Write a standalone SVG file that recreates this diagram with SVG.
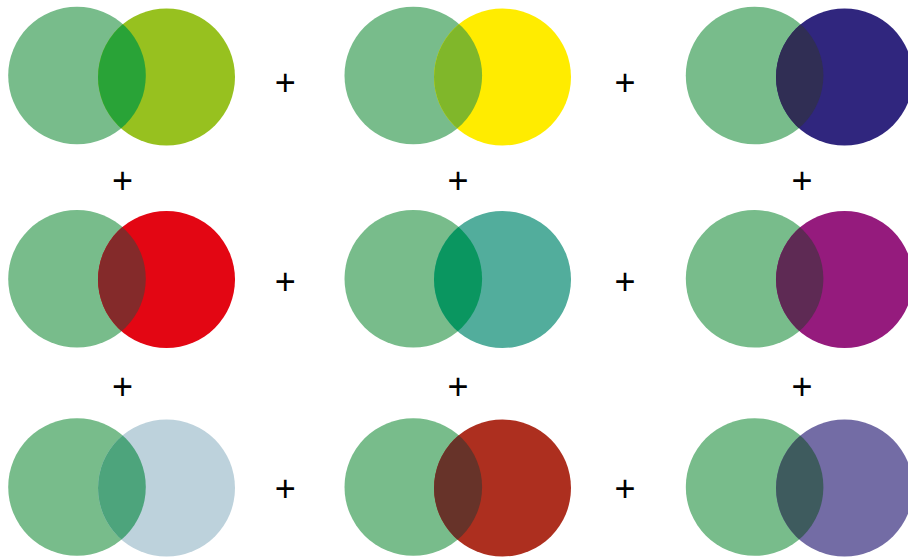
<svg xmlns="http://www.w3.org/2000/svg" width="908" height="557" viewBox="0 0 908 557">
<style>
.g{fill:#78bc8b}
.plus{font-family:"Liberation Sans",Arial,sans-serif;font-size:36px;fill:#000;text-anchor:middle}
</style>
<defs>
<clipPath id="c1"><circle cx="166.5" cy="77" r="68.5"/></clipPath>
<clipPath id="c2"><circle cx="502.5" cy="77" r="68.5"/></clipPath>
<clipPath id="c3"><circle cx="844.5" cy="77" r="68.5"/></clipPath>
<clipPath id="c4"><circle cx="166.5" cy="279.5" r="68.5"/></clipPath>
<clipPath id="c5"><circle cx="502.5" cy="279.5" r="68.5"/></clipPath>
<clipPath id="c6"><circle cx="844.5" cy="279.5" r="68.5"/></clipPath>
<clipPath id="c7"><circle cx="166.5" cy="488" r="68.5"/></clipPath>
<clipPath id="c8"><circle cx="502.5" cy="488" r="68.5"/></clipPath>
<clipPath id="c9"><circle cx="844.5" cy="488" r="68.5"/></clipPath>
</defs>
<rect width="908" height="557" fill="#fff"/>
<g id="pair1">
<circle class="g" cx="77" cy="75.5" r="68.8"/>
<circle cx="166.5" cy="77" r="68.5" fill="#97c11f"/>
<circle cx="77" cy="75.5" r="68.8" fill="#29a337" clip-path="url(#c1)"/>
</g>
<g id="pair2">
<circle class="g" cx="413.3" cy="75.5" r="68.8"/>
<circle cx="502.5" cy="77" r="68.5" fill="#ffec00"/>
<circle cx="413.3" cy="75.5" r="68.8" fill="#80b72a" clip-path="url(#c2)"/>
</g>
<g id="pair3">
<circle class="g" cx="754.6" cy="75.5" r="68.8"/>
<circle cx="844.5" cy="77" r="68.5" fill="#30267e"/>
<circle cx="754.6" cy="75.5" r="68.8" fill="#302e54" clip-path="url(#c3)"/>
</g>
<g id="pair4">
<circle class="g" cx="77" cy="278.8" r="68.8"/>
<circle cx="166.5" cy="279.5" r="68.5" fill="#e30613"/>
<circle cx="77" cy="278.8" r="68.8" fill="#842a2a" clip-path="url(#c4)"/>
</g>
<g id="pair5">
<circle class="g" cx="413.3" cy="278.8" r="68.8"/>
<circle cx="502.5" cy="279.5" r="68.5" fill="#52ad9c"/>
<circle cx="413.3" cy="278.8" r="68.8" fill="#0a9660" clip-path="url(#c5)"/>
</g>
<g id="pair6">
<circle class="g" cx="754.6" cy="278.8" r="68.8"/>
<circle cx="844.5" cy="279.5" r="68.5" fill="#951b7d"/>
<circle cx="754.6" cy="278.8" r="68.8" fill="#5e2a54" clip-path="url(#c6)"/>
</g>
<g id="pair7">
<circle class="g" cx="77" cy="487" r="68.8"/>
<circle cx="166.5" cy="488" r="68.5" fill="#bdd2dc"/>
<circle cx="77" cy="487" r="68.8" fill="#4da47c" clip-path="url(#c7)"/>
</g>
<g id="pair8">
<circle class="g" cx="413.3" cy="487" r="68.8"/>
<circle cx="502.5" cy="488" r="68.5" fill="#ad2f1f"/>
<circle cx="413.3" cy="487" r="68.8" fill="#673329" clip-path="url(#c8)"/>
</g>
<g id="pair9">
<circle class="g" cx="754.6" cy="487" r="68.8"/>
<circle cx="844.5" cy="488" r="68.5" fill="#736ca5"/>
<circle cx="754.6" cy="487" r="68.8" fill="#3e5b5e" clip-path="url(#c9)"/>
</g>
<g id="plus-signs">
<text class="plus" x="285.3" y="94.5">+</text>
<text class="plus" x="625" y="94.5">+</text>
<text class="plus" x="285.3" y="293.5">+</text>
<text class="plus" x="625" y="293.5">+</text>
<text class="plus" x="285.3" y="500.5">+</text>
<text class="plus" x="625" y="500.5">+</text>
<text class="plus" x="122.5" y="193">+</text>
<text class="plus" x="458" y="193">+</text>
<text class="plus" x="802" y="193">+</text>
<text class="plus" x="122.5" y="398.5">+</text>
<text class="plus" x="458" y="398.5">+</text>
<text class="plus" x="802" y="398.5">+</text>
</g>
</svg>
